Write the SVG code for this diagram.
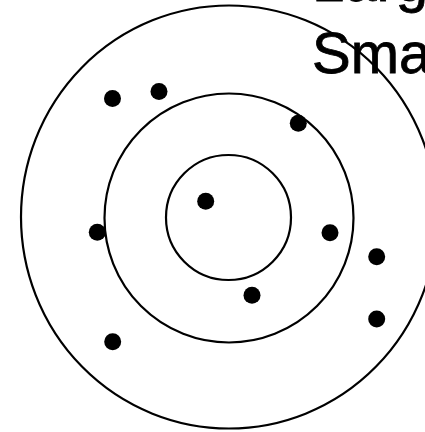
<svg xmlns="http://www.w3.org/2000/svg" width="425" height="432" viewBox="0 0 425 432">
<style>
.ring{fill:none;stroke:#000;stroke-width:2.2}
.dot{fill:#000}
.lbl{font-family:"Liberation Sans",Arial,sans-serif;font-size:58px;fill:#000;stroke:#000;stroke-width:0.8}
</style>
<rect width="425" height="432" fill="#fff"/>
<g id="rings">
<ellipse id="outer" class="ring" cx="229" cy="217" rx="208" ry="211.5"/>
<circle id="middle" class="ring" cx="229" cy="218" r="124.5"/>
<circle id="inner" class="ring" cx="228.5" cy="217.5" r="62.5"/>
</g>
<g id="labels">
<text class="lbl" x="312" y="1">Large</text>
<text class="lbl" x="312" y="72.5">Small</text>
</g>
<g id="dots">
<circle class="dot" cx="112.5" cy="98.5" r="8.5"/>
<circle class="dot" cx="159" cy="91.5" r="8.5"/>
<circle class="dot" cx="298.3" cy="123.3" r="8.5"/>
<circle class="dot" cx="205.7" cy="201.3" r="8.5"/>
<circle class="dot" cx="97.3" cy="232.3" r="8.5"/>
<circle class="dot" cx="330" cy="232.7" r="8.5"/>
<circle class="dot" cx="376.7" cy="256.7" r="8.5"/>
<circle class="dot" cx="252" cy="295.3" r="8.5"/>
<circle class="dot" cx="376.7" cy="319" r="8.5"/>
<circle class="dot" cx="112.7" cy="341.7" r="8.5"/>
</g>
</svg>
